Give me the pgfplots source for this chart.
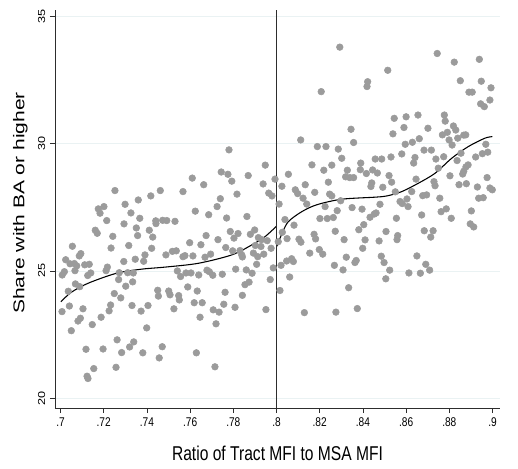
\documentclass[border=0pt]{standalone}
\usepackage{fontspec}
\setmainfont{Liberation Sans}
\usepackage{pgfplots}
\usepackage{pgfplotstable}
\pgfplotsset{compat=1.18}

\definecolor{dotgray}{RGB}{155,155,155}
\definecolor{gridc}{RGB}{234,242,243}
\definecolor{axisc}{RGB}{45,45,45}

% text in the source is squeezed sideways
\newcommand{\hx}[1]{\scalebox{0.8}[1]{#1}}
\newcommand{\hy}[1]{\scalebox{1}[0.8]{#1}}

% scatter: x = tract MFI / MSA MFI, y = share with BA or higher
\pgfplotstableread{
x y
0.7252 28.16
0.7299 27.62
0.7360 27.79
0.7418 27.95
0.7462 28.16
0.7780 29.76
0.7948 29.16
0.7610 28.65
0.7744 28.89
0.7775 28.80
0.7793 28.53
0.7663 28.39
0.7869 28.75
0.7938 28.42
0.7993 28.61
0.7567 28.12
0.7740 27.84
0.7817 28.02
0.7964 28.06
0.7979 27.95
0.7175 27.44
0.7201 27.53
0.7183 27.27
0.7214 26.98
0.7326 27.28
0.7367 27.07
0.7294 26.85
0.7351 26.69
0.7357 26.39
0.7411 26.60
0.7427 26.33
0.7441 26.97
0.7442 26.86
0.7473 26.99
0.7161 26.60
0.7170 26.48
0.7242 26.36
0.7234 25.90
0.7316 26.00
0.7422 25.89
0.7391 25.63
0.7385 25.38
0.7346 25.46
0.7055 25.97
0.7024 25.44
0.7044 25.28
0.7064 25.29
0.7075 25.20
0.7087 25.59
0.7094 25.68
0.7133 25.26
0.7112 25.24
0.7140 24.92
0.7126 24.82
0.7067 25.01
0.7018 24.97
0.7008 24.84
0.7217 25.15
0.7211 25.01
0.7293 25.37
0.7272 24.93
0.7311 24.93
0.7337 24.92
0.7269 24.66
0.7302 24.40
0.7334 24.57
0.7069 24.49
0.7089 24.38
0.7036 24.20
0.7249 24.11
0.7279 23.94
0.7232 23.66
0.7450 24.24
0.7453 24.01
0.7331 23.64
0.7225 23.43
0.7373 23.42
0.7405 23.64
0.7007 23.40
0.7041 23.62
0.7104 23.51
0.7092 23.14
0.7081 23.03
0.7147 22.89
0.7188 23.18
0.7050 22.65
0.7399 22.76
0.7262 22.29
0.7339 22.21
0.7320 22.01
0.7283 21.79
0.7197 21.93
0.7118 21.92
0.7381 21.78
0.7471 22.02
0.7457 21.58
0.7154 21.16
0.7257 21.21
0.7123 20.86
0.7127 20.77
0.7624 27.35
0.7725 27.53
0.7686 27.21
0.7769 27.08
0.7863 27.14
0.7492 26.98
0.7530 26.95
0.7598 26.11
0.7650 26.03
0.7674 26.39
0.7729 26.23
0.7786 26.55
0.7822 26.47
0.7803 26.29
0.7879 26.44
0.7899 26.61
0.7916 26.31
0.7931 26.23
0.7957 26.19
0.7488 25.63
0.7518 25.77
0.7536 25.79
0.7567 25.56
0.7576 25.60
0.7613 25.59
0.7669 25.54
0.7695 25.66
0.7765 25.92
0.7797 25.79
0.7831 25.80
0.7839 25.63
0.7842 25.55
0.7893 25.70
0.7913 25.56
0.7908 25.26
0.7941 25.66
0.7975 25.89
0.7928 25.96
0.7902 26.00
0.7541 25.00
0.7556 24.78
0.7581 24.92
0.7604 24.92
0.7640 24.84
0.7678 25.03
0.7689 24.97
0.7705 24.83
0.7749 24.87
0.7811 25.07
0.7860 25.04
0.7887 24.91
0.7985 25.12
0.7971 24.66
0.7873 24.56
0.7854 24.46
0.7501 24.21
0.7507 24.06
0.7550 23.86
0.7547 24.03
0.7589 24.37
0.7633 24.21
0.7619 23.75
0.7656 23.75
0.7762 24.16
0.7756 23.69
0.7842 24.04
0.7808 23.57
0.7525 23.51
0.7646 23.18
0.7707 23.47
0.7734 23.38
0.7720 22.92
0.7951 23.48
0.7629 21.78
0.7715 21.23
0.8293 33.80
0.8207 32.05
0.8422 32.44
0.8419 32.25
0.8345 30.57
0.8112 30.15
0.8357 30.05
0.8189 29.89
0.8229 29.89
0.8286 29.79
0.8302 29.43
0.8457 29.40
0.8487 29.40
0.8164 29.17
0.8390 29.24
0.8256 29.16
0.8055 28.80
0.8219 28.96
0.8328 28.96
0.8388 28.98
0.8445 28.97
0.8467 28.85
0.8416 28.83
0.8320 28.70
0.8339 28.67
0.8357 28.67
0.8025 28.33
0.8133 28.39
0.8240 28.49
0.8441 28.46
0.8437 28.32
0.8492 28.29
0.8087 28.19
0.8098 28.04
0.8123 27.86
0.8177 28.09
0.8246 28.02
0.8256 27.95
0.8012 27.63
0.8140 27.63
0.8297 27.76
0.8479 27.62
0.8744 33.55
0.8823 33.21
0.8939 33.32
0.8515 32.89
0.8851 32.48
0.8948 32.46
0.8993 32.20
0.8891 32.03
0.8906 32.03
0.8988 31.72
0.8945 31.57
0.8962 31.46
0.8545 31.00
0.8600 31.06
0.8655 31.13
0.8777 31.13
0.8781 30.89
0.8590 30.64
0.8701 30.61
0.8819 30.70
0.8830 30.54
0.8539 30.39
0.8768 30.35
0.8791 30.45
0.8799 30.15
0.8839 30.22
0.8867 30.34
0.8876 30.35
0.8661 30.20
0.8629 30.06
0.8596 29.98
0.8813 29.95
0.8969 29.98
0.8530 29.48
0.8580 29.60
0.8641 29.46
0.8635 29.24
0.8683 29.75
0.8717 29.75
0.8738 29.40
0.8774 29.49
0.8749 29.04
0.8922 29.48
0.8953 29.61
0.8978 29.67
0.8854 29.63
0.8836 29.34
0.8887 29.17
0.8877 29.09
0.8867 28.92
0.8862 28.81
0.8521 28.75
0.8533 28.49
0.8646 28.61
0.8729 28.51
0.8734 28.35
0.8803 28.74
0.8845 28.39
0.8879 28.43
0.8930 28.30
0.8975 28.67
0.8988 28.26
0.8999 28.19
0.8550 28.11
0.8626 28.12
0.8677 27.96
0.8695 27.99
0.8756 27.86
0.8936 27.86
0.8957 27.88
0.8572 27.73
0.8604 27.83
0.8582 27.65
0.8225 27.53
0.8281 27.37
0.8350 27.49
0.8396 27.43
0.8039 27.02
0.8081 26.80
0.8027 26.52
0.8049 26.27
0.8008 26.15
0.8104 26.25
0.8113 26.13
0.8174 26.44
0.8181 26.26
0.8201 27.06
0.8235 27.06
0.8263 27.10
0.8272 26.56
0.8313 26.23
0.8381 26.62
0.8404 26.82
0.8433 27.11
0.8453 27.24
0.8461 27.28
0.8410 26.22
0.8399 25.89
0.8475 26.18
0.8154 25.70
0.8198 25.84
0.8214 25.66
0.8323 25.54
0.8268 25.22
0.8308 25.04
0.8363 25.33
0.8369 25.41
0.8485 25.58
0.8498 25.33
0.8021 25.22
0.8047 25.39
0.8070 25.48
0.8078 25.37
0.8061 24.76
0.8016 24.23
0.8334 24.34
0.8129 23.36
0.8275 23.38
0.8374 23.52
0.8609 27.53
0.8672 27.20
0.8762 27.33
0.8786 27.44
0.8809 27.07
0.8902 27.36
0.8897 26.85
0.8913 26.73
0.8555 27.07
0.8507 26.55
0.8561 26.39
0.8558 26.23
0.8684 26.58
0.8725 26.58
0.8714 26.33
0.8650 25.59
0.8691 25.26
0.8709 25.03
0.8666 24.91
0.8613 24.92
0.8524 25.03
0.8506 24.69
}\scatterdata

\begin{document}
\begin{tikzpicture}
\begin{axis}[
    scale only axis,
    width=333.75pt,
    height=298.5pt,
    xmin=0.69745, xmax=0.90347,
    ymin=19.61, ymax=35.26,
    axis x line*=bottom,
    axis y line*=left,
    axis line style={axisc, line width=0.7pt},
    tick align=outside,
    major tick length=3.8pt,
    tick style={axisc, line width=0.6pt},
    xtick={0.7,0.72,0.74,0.76,0.78,0.8,0.82,0.84,0.86,0.88,0.9},
    xticklabels={\hx{.7},\hx{.72},\hx{.74},\hx{.76},\hx{.78},\hx{.8},\hx{.82},\hx{.84},\hx{.86},\hx{.88},\hx{.9}},
    ytick={20,25,30,35},
    yticklabels={\hy{20},\hy{25},\hy{30},\hy{35}},
    yticklabel style={rotate=90, anchor=south},
    ticklabel style={font=\fontsize{9.5}{11}\selectfont},
    ymajorgrids,
    grid style={gridc, line width=0.6pt},
    xlabel={\scalebox{0.78}[1]{Ratio of Tract MFI to MSA MFI}},
    ylabel={\scalebox{1.05}[0.78]{Share with BA or higher}},
    label style={font=\fontsize{15}{17}\selectfont},
    xlabel style={at={(axis description cs:0.5,0)}, anchor=center, yshift=-33.75pt},
    % label is turned 90 degrees: yshift moves it left, xshift moves it up
    ylabel style={at={(axis description cs:0,0.5)}, anchor=center, yshift=26pt, xshift=4.5pt},
    clip=true,
]
\addplot[only marks, mark=*, mark size=2.5pt, mark options={draw=dotgray, fill=dotgray}]
    table[x=x, y=y] {\scatterdata};

\addplot[black, line width=0.8pt, smooth] coordinates {
    (0.7002,23.79) (0.7050,24.16) (0.7129,24.52) (0.7260,24.91) (0.7376,25.07)
    (0.7484,25.15) (0.7638,25.30) (0.7793,25.63) (0.7885,26.02) (0.7947,26.35)
    (0.8000,26.76)
};
\addplot[black, line width=0.8pt, smooth] coordinates {
    (0.8001,25.96) (0.8027,26.50) (0.8055,26.94) (0.8117,27.33) (0.8186,27.60)
    (0.8302,27.82) (0.8456,27.90) (0.8512,27.95) (0.8580,28.12) (0.8657,28.45)
    (0.8734,28.84) (0.8811,29.43) (0.8888,29.89) (0.8965,30.22) (0.8999,30.28)
};
% cutoff line at ratio 0.8
\addplot[axisc, line width=1.3pt] coordinates {(0.8,19.61) (0.8,35.26)};
\end{axis}
\pgfresetboundingbox
\path[use as bounding box] ([xshift=-41.25pt,yshift=-45pt]current axis.south west)
    rectangle ([xshift=13.5pt,yshift=7.5pt]current axis.north east);
\end{tikzpicture}
\end{document}
